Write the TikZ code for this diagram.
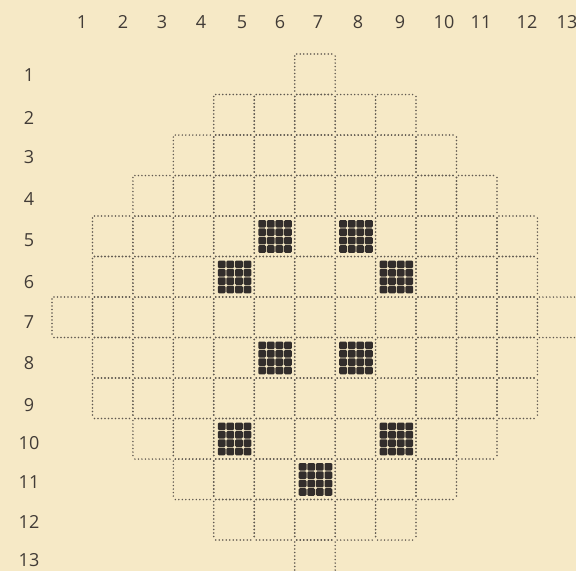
\documentclass[tikz,border=0pt]{standalone}
\usepackage{fontspec}
\newfontfamily\lblfont{Open Sans}
\definecolor{paper}{RGB}{246,233,198}
\definecolor{dotink}{RGB}{96,89,80}
\definecolor{blackink}{RGB}{50,45,43}
\definecolor{lblink}{RGB}{66,60,55}
\tikzset{
  gridline/.style={draw=dotink, line width=1.7pt, line cap=round, dash pattern=on 0pt off 3.5pt},
  lbl/.style={font=\lblfont\fontsize{18}{18}\selectfont, text=lblink, inner sep=0pt},
  inkdot/.style={fill=blackink, rounded corners=1.2pt, draw=none}
}
\begin{document}
\begin{tikzpicture}[x=1pt,y=-1pt]
\useasboundingbox (0,0) rectangle (576,571);
\fill[paper] (0,0) rectangle (576,571);
% grid cells
\foreach \r/\a/\b in {1/7/7,2/5/9,3/4/10,4/3/11,5/2/12,6/2/12,7/1/13,8/2/12,9/2/12,10/3/11,11/4/10,12/5/9,13/7/7}{
  \foreach \c in {\a,...,\b}{
    \pgfmathsetmacro\xl{52+40.45*(\c-1)}
    \pgfmathsetmacro\xr{52+40.45*\c}
    \pgfmathsetmacro\yt{54+40.5*(\r-1)}
    \pgfmathsetmacro\yb{54+40.5*\r}
    \draw[gridline] (\xl+2,\yt) -- (\xr-2,\yt);
    \draw[gridline] (\xl+2,\yb) -- (\xr-2,\yb);
    \draw[gridline] (\xl,\yt+2) -- (\xl,\yb-2);
    \draw[gridline] (\xr,\yt+2) -- (\xr,\yb-2);
  }
}
% black cells (4x4 dot matrix)
\foreach \r/\c in {5/6,5/8,6/5,6/9,8/6,8/8,10/5,10/9,11/7}{
  \pgfmathsetmacro\xl{52+40.45*(\c-1)+4}
  \pgfmathsetmacro\yt{54+40.5*(\r-1)+4}
  \foreach \i in {0,...,3}{
    \foreach \j in {0,...,3}{
      \fill[inkdot] (\xl+\i*8.6,\yt+\j*8.4) rectangle ++(7.8,7.6);
    }
  }
}
% column labels
\foreach \k/\x in {1/82,2/123,3/162,4/201,5/242,6/280,7/318,8/358,9/400,10/444,11/481,12/527,13/567}{
  \node[lbl] (col\k) at (\x,22) {\k};
}
% row labels
\foreach \k/\y in {1/75,2/118,3/157,4/199,5/240,6/282,7/322,8/363,9/405,10/443,11/482,12/522,13/560}{
  \node[lbl] (row\k) at (29,\y) {\k};
}
\end{tikzpicture}
\end{document}
